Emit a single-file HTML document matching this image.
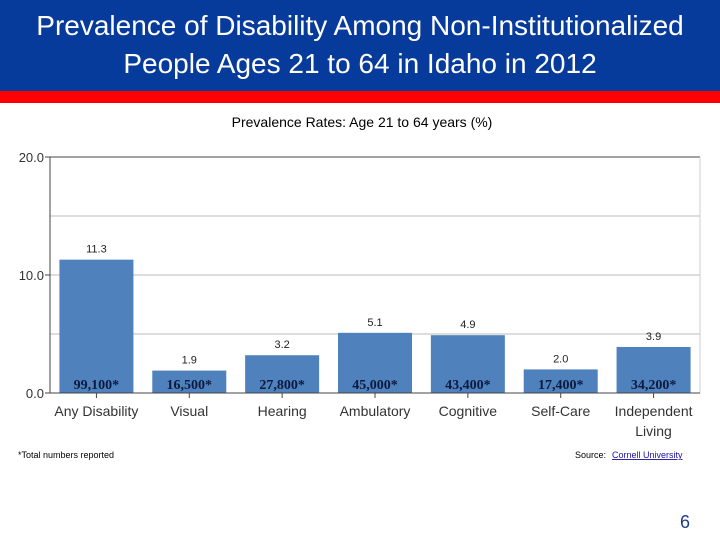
<!DOCTYPE html>
<html><head><meta charset="utf-8"><style>
body{margin:0;width:720px;height:540px;background:#fff;position:relative;overflow:hidden;font-family:"Liberation Sans",sans-serif}
#hdr{position:absolute;left:0;top:0;width:720px;height:91px;background:#063a9b;color:#fff;text-align:center;font-size:28px;line-height:38px;padding-top:7px;box-sizing:border-box}
#red{position:absolute;left:0;top:91px;width:720px;height:12px;background:#f00}
</style></head><body>
<div id="hdr">Prevalence of Disability Among Non-Institutionalized<br>People Ages 21 to 64 in Idaho in 2012</div>
<div id="red"></div>
<svg id="chart" width="720" height="540" style="position:absolute;left:0;top:0"></svg>
<div style="position:absolute;left:680px;top:512px;font-size:18px;color:#1f3a8a">6</div>
<script>
const categories=["Any Disability","Visual","Hearing","Ambulatory","Cognitive","Self-Care","Independent|Living"];
const values=[11.3,1.9,3.2,5.1,4.9,2.0,3.9];
const counts=["99,100*","16,500*","27,800*","45,000*","43,400*","17,400*","34,200*"];
const yTicks=[0,10,20];
const grid=[5,10,15,20];
const svg=document.getElementById('chart');
const NS='http://www.w3.org/2000/svg';
const x0=50,x1=700,y0=393,yTop=157,ymax=20;
const y=v=>y0-(y0-yTop)*v/ymax;
const band=(x1-x0)/categories.length;
const cx=i=>x0+band*(i+0.5);
function mk(t,a,txt){const e=document.createElementNS(NS,t);for(const k in a)e.setAttribute(k,a[k]);if(txt!=null)e.textContent=txt;svg.appendChild(e);return e;}
let e=mk('text',{x:362,y:127,'font-size':14,'text-anchor':'middle',fill:'#000'},'Prevalence Rates: Age 21 to 64 years (%)');


grid.forEach(g=>{const l=mk('line',{x1:x0,x2:x1,y1:y(g),y2:y(g),stroke:g==20?'#444':'#bbb','stroke-width':1});

});
mk('line',{x1:x1,x2:x1,y1:yTop,y2:y0,stroke:'#ccc'});
yTicks.forEach(t=>{const tx=mk('text',{x:44,y:y(t)+5,'font-size':13,'text-anchor':'end',fill:'#333'},t.toFixed(1));


mk('line',{x1:45,x2:x0,y1:y(t),y2:y(t),stroke:'#444'});});
values.forEach((v,i)=>{
const r=mk('rect',{x:cx(i)-37,y:y(v),width:74,height:y0-y(v),fill:'#4f81bd'});


const lv=mk('text',{x:cx(i),y:y(v)-7,'font-size':11,'text-anchor':'middle',fill:'#222'},v.toFixed(1));


const c=mk('text',{x:cx(i),y:389,'font-size':14,'font-weight':'bold','text-anchor':'middle',fill:'#0a1a40','font-family':'Liberation Serif, serif'},counts[i]);


mk('line',{x1:cx(i),x2:cx(i),y1:y0,y2:y0+5,stroke:'#444'});
categories[i].split('|').forEach((p,j)=>{const t=mk('text',{x:cx(i),y:416+j*20,'font-size':14,'text-anchor':'middle',fill:'#333'},p);

});
});
mk('line',{x1:x0,x2:x0,y1:yTop,y2:y0,stroke:'#444'});
mk('line',{x1:x0,x2:x1,y1:y0,y2:y0,stroke:'#444'});
e=mk('text',{x:18,y:458,'font-size':9,fill:'#000'},'*Total numbers reported');


e=mk('text',{x:575,y:458,'font-size':9,fill:'#000'},'Source: ');


e=mk('text',{x:612,y:458,'font-size':9,fill:'#1a0dab','text-decoration':'underline'},'Cornell University');


</script>
</body></html>
